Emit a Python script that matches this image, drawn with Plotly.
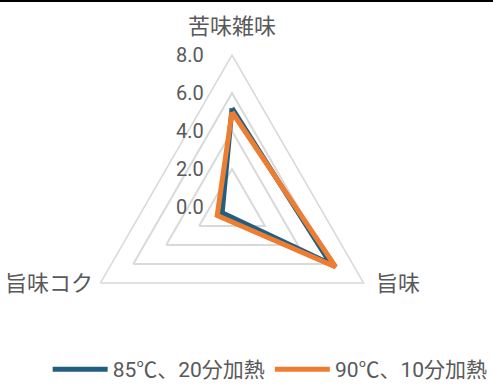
import plotly.graph_objects as go

categories = ["苦味雑味", "旨味", "旨味コク"]
series_names = ["85℃、20分加熱", "90℃、10分加熱"]
values_85 = [5.2, 6.0, 0.6]
values_90 = [5.0, 6.3, 0.9]
colors = ["#215F82", "#ED7D31"]
tick_vals = [0, 2, 4, 6, 8]
tick_text = ["0.0", "2.0", "4.0", "6.0", "8.0"]

GRID = "#D9D9D9"
TXT = "#595959"
FONT = "Roboto, 'Noto Sans CJK JP', sans-serif"

fig = go.Figure()
for name, vals, col in zip(series_names, [values_85, values_90], colors):
    fig.add_trace(go.Scatterpolar(
        r=vals + [vals[0]],
        theta=categories + [categories[0]],
        mode="lines",
        name=name,
        line=dict(color=col, width=5),
    ))

W, H = 493, 390
cx, cy, R = 232, 207, 152          # polygon centre / outer radius (pixels)
pad = "\u00a0" * 5                 # shifts centred radial labels to the left of the axis

fig.update_layout(
    width=W, height=H,
    margin=dict(l=0, r=0, t=0, b=0, autoexpand=False),
    paper_bgcolor="white",
    font=dict(family=FONT, color=TXT, size=20),
    polar=dict(
        domain=dict(x=[(cx - R) / W, (cx + R) / W], y=[1 - (cy + R) / H, 1 - (cy - R) / H]),
        gridshape="linear",
        bgcolor="white",
        radialaxis=dict(
            range=[0, 8], tickvals=tick_vals, ticktext=[t + pad for t in tick_text],
            angle=90, tickangle=90, side="counterclockwise", showline=False, ticks="",
            gridcolor=GRID, gridwidth=1.5, tickfont=dict(size=20, color=TXT),
        ),
        angularaxis=dict(
            rotation=90, direction="clockwise", showgrid=False, showticklabels=False,
            showline=True, linecolor=GRID, linewidth=1.5, ticks="",
        ),
    ),
    showlegend=True,
    legend=dict(
        orientation="h", x=0.548, xanchor="center", y=0, yanchor="bottom",
        font=dict(size=21, color=TXT), itemwidth=55, tracegroupgap=0,
    ),
    shapes=[dict(type="rect", xref="paper", yref="paper", x0=-0.01, x1=1.01,
                 y0=1 - 2 / H, y1=1.01, fillcolor="black", line=dict(width=0))],
)

# category labels placed beside each vertex
vx = [cx, cx + R * 0.866, cx - R * 0.866]
vy = [cy - R, cy + R / 2, cy + R / 2]
offs = [(0, -28, "center"), (10, 0, "left"), (-5, 0, "right")]
for name, x, y, (dx, dy, anchor) in zip(categories, vx, vy, offs):
    fig.add_annotation(
        text=name, xref="paper", yref="paper",
        x=(x + dx) / W, y=1 - (y + dy) / H, xanchor=anchor, yanchor="middle",
        showarrow=False, font=dict(size=22, color=TXT, family=FONT),
    )

fig.write_html("out.html")
